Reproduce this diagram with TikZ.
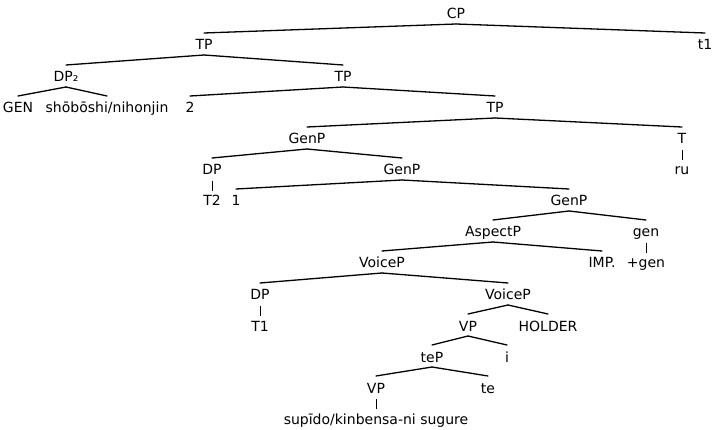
\documentclass[tikz,border=0pt]{standalone}
\usepackage{fontspec}
\setmainfont{DejaVu Sans}
\begin{document}
\begin{tikzpicture}[x=1pt,y=-1pt,
  lab/.style={anchor=base,inner sep=0pt,font=\fontsize{14}{16}\selectfont},
  br/.style={line width=1.3pt,line cap=round},
  bar/.style={line width=0.7pt}]
\useasboundingbox (0,0) rectangle (712,430);
% nodes (x, baseline)
\node[lab] (cp)     at (456,19) {CP};
\node[lab] (tp1)    at (204,50) {TP};
\node[lab] (t1)     at (705,50) {t1};
\node[lab] (dp2)    at (66,82) {DP₂};
\node[lab] (tp2)    at (343,82) {TP};
\node[lab] (gen)    at (18,113) {GEN};
\node[lab] (shob)   at (107,113) {shōbōshi/nihonjin};
\node[lab] (two)    at (190,113) {2};
\node[lab] (tp3)    at (495,113) {TP};
\node[lab] (genp1)  at (307,144) {GenP};
\node[lab] (T)      at (682,144) {T};
\node[lab] (ru)     at (682,175) {ru};
\node[lab] (dpA)    at (212,175) {DP};
\node[lab] (t2)     at (212,206) {T2};
\node[lab] (genp2)  at (402,175) {GenP};
\node[lab] (one)    at (236,206) {1};
\node[lab] (genp3)  at (569,206) {GenP};
\node[lab] (aspp)   at (493,237) {AspectP};
\node[lab] (gensm)  at (646,237) {gen};
\node[lab] (pgen)   at (646,268) {+gen};
\node[lab] (imp)    at (602,268) {IMP.};
\node[lab] (voice1) at (382,268) {VoiceP};
\node[lab] (dpB)    at (260,300) {DP};
\node[lab] (tone)   at (260,331) {T1};
\node[lab] (voice2) at (508,300) {VoiceP};
\node[lab] (vp1)    at (468,331) {VP};
\node[lab] (holder) at (548,331) {HOLDER};
\node[lab] (tep)    at (432,362) {teP};
\node[lab] (ii)     at (507,362) {i};
\node[lab] (vp2)    at (376,393) {VP};
\node[lab] (te)     at (488,393) {te};
\node[lab] (sup)    at (376,424) {supīdo/kinbensa-ni sugure};
% branches
\foreach \p/\c in {cp/tp1,cp/t1,tp1/dp2,tp1/tp2,dp2/gen,dp2/shob,tp2/two,tp2/tp3,
  tp3/genp1,tp3/T,genp1/dpA,genp1/genp2,genp2/one,genp2/genp3,genp3/aspp,genp3/gensm,
  aspp/voice1,aspp/imp,voice1/dpB,voice1/voice2,voice2/vp1,voice2/holder,
  vp1/tep,vp1/ii,tep/vp2,tep/te}
  \draw[br] ([yshift=-5pt]\p.base) -- ([yshift=17pt]\c.base);
\foreach \p/\c in {T/ru,dpA/t2,gensm/pgen,dpB/tone,vp2/sup}
  \draw[bar] ([yshift=-6pt]\p.base) -- ([yshift=15pt]\c.base);
\end{tikzpicture}
\end{document}
